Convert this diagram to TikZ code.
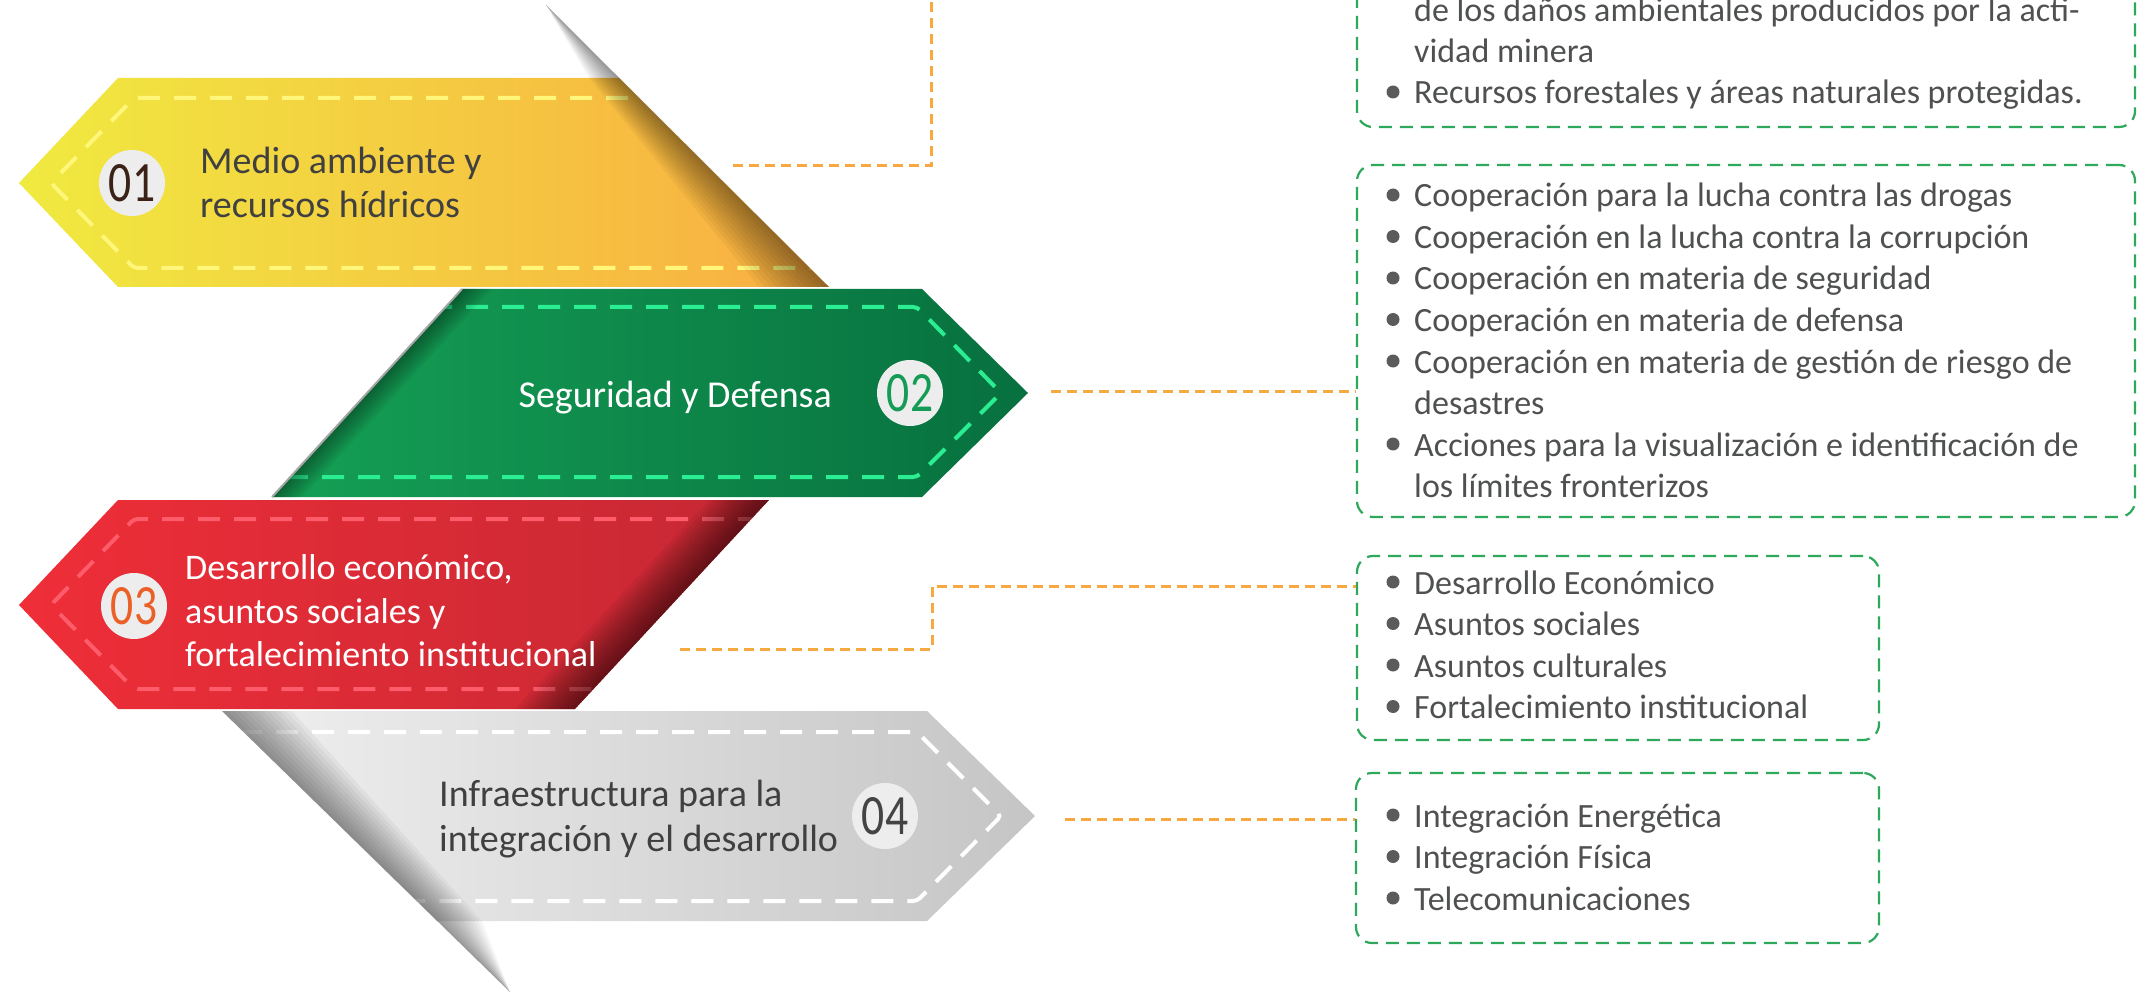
\documentclass[tikz,border=0pt]{standalone}
\usepackage{fontspec}
\setmainfont{Carlito}
\newfontfamily\numfont[FakeStretch=0.8]{Carlito}
\usetikzlibrary{calc}
\definecolor{ylwL}{HTML}{F0EA40}
\definecolor{ylwM}{HTML}{F2DD46}
\definecolor{ylwR}{HTML}{F9AD42}
\definecolor{ylwD}{HTML}{FFF67A}
\definecolor{grnL}{HTML}{15A055}
\definecolor{grnR}{HTML}{07703F}
\definecolor{grnD}{HTML}{2BEE93}
\definecolor{redL}{HTML}{EF2E38}
\definecolor{redR}{HTML}{C52834}
\definecolor{redD}{HTML}{FF5C6B}
\definecolor{gryL}{HTML}{F0F0F0}
\definecolor{gryR}{HTML}{C5C5C5}
\definecolor{circ}{HTML}{EDEDED}
\definecolor{conn}{HTML}{F7A941}
\definecolor{boxc}{HTML}{2EA95B}
\definecolor{txt}{HTML}{4F5050}
\definecolor{bulc}{HTML}{5A5C5C}
\definecolor{lbldark}{HTML}{404040}
\definecolor{num1}{HTML}{3B2216}
\definecolor{num2}{HTML}{149B55}
\definecolor{num3}{HTML}{EB6028}
\definecolor{num4}{HTML}{444444}
\tikzset{
  innerdash/.style={line width=4pt, dash pattern=on 22pt off 14pt, rounded corners=4pt},
  connline/.style={draw=conn, line width=3pt, dash pattern=on 10pt off 6pt},
  listbox/.style={draw=boxc, line width=2.2pt, dash pattern=on 13pt off 8pt, rounded corners=16pt, inner sep=0pt},
  numcirc/.style={circle, fill=circ, minimum size=66pt, inner sep=0pt, font=\numfont\fontsize{57}{57}\selectfont},
  lbl/.style={font=\fontsize{38}{44}\selectfont, inner sep=0pt},
  lblsm/.style={font=\fontsize{36}{44}\selectfont, inner sep=0pt},
  listtext/.style={font=\fontsize{34}{41}\selectfont, text=txt, inner sep=0pt, anchor=base west},
  shade/.style={fill=black, fill opacity=#1},
}
\begin{document}
\begin{tikzpicture}[x=1pt,y=-1pt]
\useasboundingbox (0,0) rectangle (2144,992);
\clip (0,0) rectangle (2144,992);
\fill[white] (0,0) rectangle (2144,992);

\def\Yshape{(19,183) -- (118,78) -- (619,78) -- (829,287) -- (118,287) -- cycle}
\def\Gshape{(462,289) -- (922,289) -- (1028,393) -- (922,497) -- (272,497) -- cycle}
\def\Rshape{(19,605) -- (118,500) -- (769,500) -- (575,709) -- (118,709) -- cycle}
\def\Wshape{(222,711) -- (927,711) -- (1035,816) -- (927,921) -- (437,921) -- cycle}

% ---------- yellow
\path[left color=ylwL, middle color=ylwM, right color=ylwR] \Yshape;
\begin{scope}
  \clip \Yshape;
  \draw[innerdash, ylwD] (700,98) -- (134,98) -- (51,183) -- (134,268) -- (820,268);
\end{scope}
\foreach \k in {1,...,12}{
  \fill[shade=0.04] (546,5) -- (829,287) -- ({829-70*\k/12},287) -- ({619-30*\k/12},78) -- cycle;
}
% ---------- green
\path[left color=grnL, right color=grnR] \Gshape;
\begin{scope}
  \clip \Gshape;
  \draw[innerdash, grnD] (430,307) -- (917,307) -- (1001,393) -- (917,477) -- (280,477);
  \foreach \k in {1,...,8}{
    \fill[shade=0.05] (462,289) -- (272,497) -- ({272+30*\k/8},497) -- ({462+30*\k/8},289) -- cycle;
  }
\end{scope}
\draw[gray!70, line width=2pt] (462,289) -- (272,497);
% ---------- red
\path[left color=redL, right color=redR] \Rshape;
\begin{scope}
  \clip \Rshape;
  \draw[innerdash, redD] (760,519) -- (134,519) -- (51,605) -- (134,689) -- (600,689);
  \foreach \k in {1,...,12}{
    \fill[shade=0.05] (769,500) -- (575,709) -- ({575-60*\k/12},709) -- ({769-60*\k/12},500) -- cycle;
  }
\end{scope}
% ---------- gray
\path[left color=gryL, right color=gryR] \Wshape;
\begin{scope}
  \clip \Wshape;
  \draw[innerdash, white] (240,732) -- (917,732) -- (1001,816) -- (917,901) -- (410,901);
\end{scope}
\foreach \k in {1,...,12}{
  \fill[shade=0.04] (222,711) -- (510,992) -- ({437+45*\k/12},921) -- ({222+70*\k/12},711) -- cycle;
}

% ---------- numbers
\node[numcirc, text=num1] (n1) at (132,183) {01};
\node[numcirc, text=num2] (n2) at (910,393) {02};
\node[numcirc, text=num3] (n3) at (134,606) {03};
\node[numcirc, text=num4] (n4) at (885,816) {04};

% ---------- labels
\node[lbl, text=lbldark, anchor=base west] (y1) at (200,174) {Medio ambiente y};
\node[lbl, text=lbldark, anchor=base west] (y2) at (200,218) {recursos hídricos};
\node[lbl, text=white, anchor=base east] (g1) at (832,407) {Seguridad y Defensa};
\node[lblsm, text=white, anchor=base west] (r1) at (185,579) {Desarrollo económico,};
\node[lblsm, text=white, anchor=base west] (r2) at (185,623) {asuntos sociales y};
\node[lblsm, text=white, anchor=base west] (r3) at (185,666) {fortalecimiento institucional};
\node[lbl, text=lbldark, anchor=base west] (w1) at (439,806) {Infraestructura para la};
\node[lbl, text=lbldark, anchor=base west] (w2) at (439,851) {integración y el desarrollo};

% ---------- boxes
\node[listbox, minimum width=778pt, minimum height=427pt] (box1) at (1746,-86.5) {};
\node[listbox, minimum width=778pt, minimum height=352pt] (box2) at (1746,341) {};
\node[listbox, minimum width=522pt, minimum height=184pt] (box3) at (1618,648) {};
\node[listbox, minimum width=523pt, minimum height=170pt] (box4) at (1617.5,858) {};

% box 1
\node[listtext] (t11) at (1414,22) {de los daños ambientales producidos por la acti-};
\node[listtext] (t12) at (1414,63) {vidad minera};
\node[listtext] (t13) at (1414,104) {Recursos forestales y áreas naturales protegidas.};
\fill[bulc] (1393,92) circle (6.5);
% box 2
\node[listtext] (t21) at (1414,207) {Cooperación para la lucha contra las drogas};
\node[listtext] (t22) at (1414,248.5) {Cooperación en la lucha contra la corrupción};
\node[listtext] (t23) at (1414,290) {Cooperación en materia de seguridad};
\node[listtext] (t24) at (1414,331.5) {Cooperación en materia de defensa};
\node[listtext] (t25) at (1414,373) {Cooperación en materia de gestión de riesgo de};
\node[listtext] (t26) at (1414,414.5) {desastres};
\node[listtext] (t27) at (1414,456) {Acciones para la visualización e identificación de};
\node[listtext] (t28) at (1414,497.5) {los límites fronterizos};
\foreach \y in {207,248.5,290,331.5,373,456}{\fill[bulc] (1393,\y-12) circle (6.5);}
% box 3
\node[listtext] (t31) at (1414,594) {Desarrollo Económico};
\node[listtext] (t32) at (1414,635.5) {Asuntos sociales};
\node[listtext] (t33) at (1414,677) {Asuntos culturales};
\node[listtext] (t34) at (1414,718.5) {Fortalecimiento institucional};
\foreach \y in {594,635.5,677,718.5}{\fill[bulc] (1393,\y-12) circle (6.5);}
% box 4
\node[listtext] (t41) at (1414,827) {Integración Energética};
\node[listtext] (t42) at (1414,868.5) {Integración Física};
\node[listtext] (t43) at (1414,910) {Telecomunicaciones};
\foreach \y in {827,868.5,910}{\fill[bulc] (1393,\y-12) circle (6.5);}

% ---------- connectors
\coordinate (c1s) at (733,166);
\coordinate (c1e) at (931,-10);
\coordinate (c2s) at (1051,391);
\coordinate (c3s) at (680,649);
\coordinate (c3m) at (932,586);
\coordinate (c4s) at (1065,819);
\draw[connline] (c1s) -| (c1e);
\draw[connline] (c2s) -- (c2s -| box2.west);
\draw[connline] (c3s) -| (c3m) -- (c3m -| box3.west);
\draw[connline] (c4s) -- (c4s -| box4.west);
\end{tikzpicture}
\end{document}
